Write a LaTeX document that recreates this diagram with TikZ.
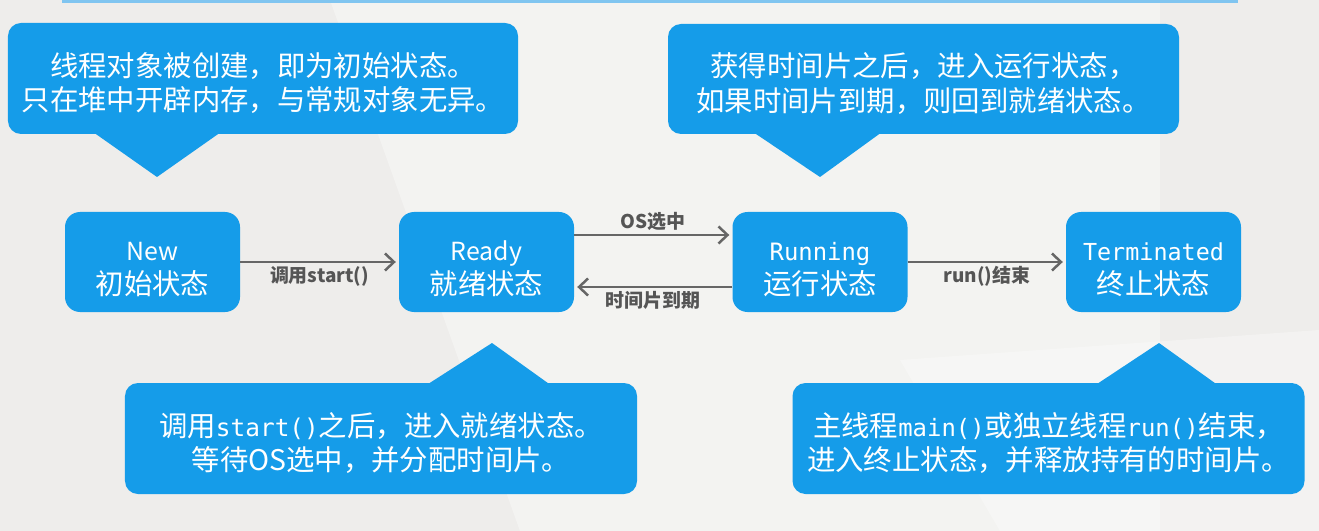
\documentclass[tikz,border=0pt]{standalone}
\usepackage{fontspec}
\setmainfont{Noto Sans CJK SC}
\newfontfamily\monof{DejaVu Sans Mono}
\usetikzlibrary{arrows.meta}
\definecolor{boxblue}{RGB}{21,156,233}
\definecolor{bggray}{RGB}{238,237,235}
\definecolor{linegray}{RGB}{102,102,102}
\definecolor{labelgray}{RGB}{85,85,85}
\definecolor{stripblue}{RGB}{128,197,240}
\begin{document}
\begin{tikzpicture}[x=1bp,y=-1bp,
  state/.style={fill=boxblue, rounded corners=15bp, minimum width=175bp, minimum height=100bp, inner sep=0pt, text height=67bp, text=white, align=center, font=\fontsize{28.5}{34}\selectfont},
  tipbox/.style={fill=boxblue, rounded corners=13bp, inner sep=0pt, text height=68bp, text=white, align=center, font=\fontsize{28.5}{35}\selectfont},
  pointer/.style={fill=boxblue},
  trans/.style={draw=linegray, line width=2.5bp, -{Straight Barb[length=9bp,width=17bp]}, shorten >=3bp},
  lbl/.style={text=labelgray, inner sep=3bp, font=\bfseries\fontsize{19}{19}\selectfont}]
\useasboundingbox (0,0) rectangle (1319,531);
\fill[bggray] (0,0) rectangle (1319,531);
\fill[white, opacity=.35] (330,0) -- (1160,0) -- (1160,531) -- (520,531) -- cycle;
\fill[white, opacity=.3] (900,360) -- (1319,330) -- (1319,531) -- (1000,531) -- cycle;
\fill[stripblue] (62,0) rectangle (1238,3);
\node[tipbox, minimum width=510bp, minimum height=111bp] (co0) at (263,78.5){线程对象被创建，即为初始状态。\\只在堆中开辟内存，与常规对象无异。};
\fill[pointer] (93,132) -- (157,177) -- (221,132) -- cycle;
\node[tipbox, minimum width=511bp, minimum height=110bp] (co1) at (923.5,79){获得时间片之后，进入运行状态，\\如果时间片到期，则回到就绪状态。};
\fill[pointer] (753,132) -- (820,177) -- (882,132) -- cycle;
\node[tipbox, minimum width=512bp, minimum height=111bp] (co2) at (381,438.5){调用{\monof\fontsize{24.5}{35}\selectfont start()}之后，进入就绪状态。\\等待OS选中，并分配时间片。};
\fill[pointer] (425,386) -- (492,343) -- (552,386) -- cycle;
\node[tipbox, minimum width=512bp, minimum height=111bp] (co3) at (1048.5,438.5){主线程{\monof\fontsize{24}{35}\selectfont main()}或独立线程{\monof\fontsize{24}{35}\selectfont run()}结束，\\进入终止状态，并释放持有的时间片。};
\fill[pointer] (1094,386) -- (1159,343) -- (1219,386) -- cycle;
\node[state] (st0) at (152.5,262){{\fontsize{25}{34}\selectfont New}\\初始状态};
\node[state] (st1) at (486.5,262){{\fontsize{25}{34}\selectfont Ready}\\就绪状态};
\node[state] (st2) at (820,262){{\monof\fontsize{24}{34}\selectfont Running}\\运行状态};
\node[state] (st3) at (1153.5,262){{\monof\fontsize{23.5}{34}\selectfont Terminated}\\终止状态};
\draw[trans](st0) -- node[lbl, below]{调用start()} (st1);
\draw[trans]([yshift=27bp]st1.east) -- node[lbl, above]{OS选中} ([yshift=27bp]st2.west);
\draw[trans]([yshift=-25bp]st2.west) -- node[lbl, below]{时间片到期} ([yshift=-25bp]st1.east);
\draw[trans](st2) -- node[lbl, below]{run()结束} (st3);
\end{tikzpicture}
\end{document}
